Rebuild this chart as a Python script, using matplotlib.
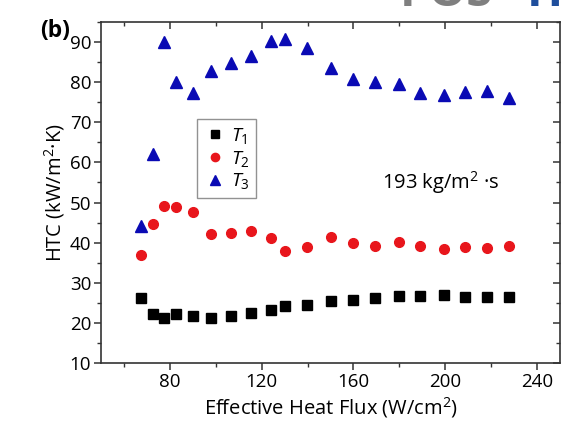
import matplotlib
matplotlib.use("Agg")
import matplotlib.pyplot as plt
from matplotlib.ticker import MultipleLocator

plt.rcParams['font.family'] = ['Open Sans', 'DejaVu Sans']
plt.rcParams['mathtext.fontset'] = 'custom'
plt.rcParams['mathtext.it'] = 'Open Sans:italic'
plt.rcParams['mathtext.rm'] = 'Open Sans'

heat_flux = [67.3, 72.5, 77.5, 82.8, 90.2, 98.1, 106.8, 115.4, 123.9, 130.1,
             139.8, 150.0, 159.7, 169.6, 179.8, 189.2, 199.5, 208.6, 218.3, 227.9]
htc_t1 = [26.1, 22.1, 21.3, 22.2, 21.8, 21.3, 21.8, 22.5, 23.3, 24.3,
          24.5, 25.4, 25.8, 26.1, 26.8, 26.8, 27.0, 26.4, 26.5, 26.4]
htc_t2 = [36.9, 44.7, 49.2, 48.8, 47.7, 42.1, 42.3, 42.8, 41.2, 38.0,
          39.0, 41.4, 39.8, 39.1, 40.1, 39.1, 38.5, 38.8, 38.6, 39.1]
htc_t3 = [44.2, 62.1, 90.0, 80.0, 77.2, 82.9, 84.8, 86.5, 90.2, 90.8,
          88.6, 83.5, 80.8, 80.1, 79.6, 77.3, 76.9, 77.6, 77.9, 76.1]
series_labels = ['$T_1$', '$T_2$', '$T_3$']
annotation = '193 kg/m$^2$ ·s'

fig = plt.figure(figsize=(5.65, 4.25), dpi=100)
ax = fig.add_axes([101/565, 62/425, 459/565, 341/425])

ax.plot(heat_flux, htc_t1, 's', color='black', ms=6.5, label=series_labels[0], linestyle='none')
ax.plot(heat_flux, htc_t2, 'o', color='#e8161c', ms=7, label=series_labels[1], linestyle='none')
ax.plot(heat_flux, htc_t3, '^', color='#0a0ab4', ms=8, label=series_labels[2], linestyle='none')

ax.set_xlim(50, 250)
ax.set_ylim(10, 95)
ax.set_xticks([80, 120, 160, 200, 240])
ax.xaxis.set_minor_locator(MultipleLocator(20))
ax.yaxis.set_major_locator(MultipleLocator(10))
ax.yaxis.set_minor_locator(MultipleLocator(5))

for s in ax.spines.values():
    s.set_linewidth(1.2)
    s.set_color('#333333')

ax.tick_params(which='major', direction='out', length=5, width=1.1, labelsize=13.5,
               color='#333333', pad=2)
ax.tick_params(which='minor', direction='out', length=3, width=1.0, color='#333333')

top = ax.secondary_xaxis('top')
top.set_xticks([80, 120, 160, 200, 240])
top.xaxis.set_minor_locator(MultipleLocator(20))
top.tick_params(which='major', direction='in', length=5, width=1.1, labeltop=False, color='#333333')
top.tick_params(which='minor', direction='in', length=3, width=1.0, color='#333333')
top.spines['top'].set_visible(False)

right = ax.secondary_yaxis('right')
right.yaxis.set_major_locator(MultipleLocator(10))
right.yaxis.set_minor_locator(MultipleLocator(5))
right.tick_params(which='major', direction='in', length=5, width=1.1, labelright=False, color='#333333')
right.tick_params(which='minor', direction='in', length=3, width=1.0, color='#333333')
right.spines['right'].set_visible(False)

ax.set_xlabel('Effective Heat Flux (W/cm$^2$)', fontsize=14.5, labelpad=3)
ax.set_ylabel('HTC (kW/m$^2$·K)', fontsize=14.5, labelpad=2)

leg = ax.legend(loc='upper left', bbox_to_anchor=(0.209, 0.716), borderaxespad=0,
                fancybox=False, edgecolor='#777777', fontsize=14, handletextpad=0.2,
                handlelength=1.2, labelspacing=0.15, borderpad=0.35, markerscale=0.85)
leg.get_frame().set_linewidth(1.0)

ax.text(0.739, 0.528, annotation, transform=ax.transAxes, ha='center', va='center',
        fontsize=14.5)

fig.text(40/565, 1 - 31/425, '(b)', fontsize=16.5, fontweight='bold', ha='left', va='center')

# cropped logo fragment at top right
fig.text(400/565, 1 - 6/425, 'POS', fontsize=34, fontweight='bold', color='#7f7f7f',
         ha='left', va='baseline')
fig.text(527/565, 1 - 6/425, 'IT', fontsize=34, fontweight='bold', color='#1f4e9c',
         ha='left', va='baseline')

fig.savefig('out.png', dpi=100)
